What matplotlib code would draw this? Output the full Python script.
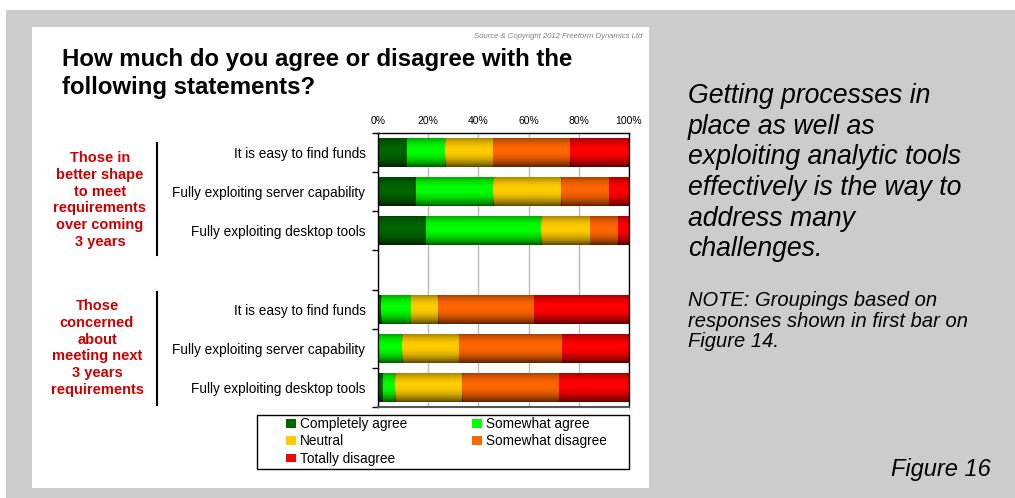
import numpy as np
import matplotlib.pyplot as plt
from matplotlib.patches import Rectangle, Patch
from matplotlib.lines import Line2D

plt.rcParams['font.family'] = ['Liberation Sans', 'DejaVu Sans']

W, H = 1015, 498

# data (percent of respondents)
statements = ['It is easy to find funds',
              'Fully exploiting server capability',
              'Fully exploiting desktop tools']
responses = ['Completely agree', 'Somewhat agree', 'Neutral',
             'Somewhat disagree', 'Totally disagree']
colors = ['#006600', '#00ff00', '#ffcc00', '#ff6600', '#ff0000']

# those in better shape to meet requirements
better_completely = [11.4, 15.0, 19.0]
better_somewhat = [15.3, 30.8, 46.0]
better_neutral = [19.1, 27.1, 19.5]
better_somewhat_dis = [30.7, 19.1, 11.2]
better_totally_dis = [23.5, 8.0, 4.3]

# those concerned about meeting requirements
concerned_completely = [1.2, 0.3, 1.9]
concerned_somewhat = [11.9, 9.3, 4.9]
concerned_neutral = [10.8, 22.7, 26.7]
concerned_somewhat_dis = [38.2, 41.0, 38.6]
concerned_totally_dis = [37.9, 26.7, 27.9]

tick_values = [0, 20, 40, 60, 80, 100]

better = [better_completely, better_somewhat, better_neutral,
          better_somewhat_dis, better_totally_dis]
concerned = [concerned_completely, concerned_somewhat, concerned_neutral,
             concerned_somewhat_dis, concerned_totally_dis]
series = [b + c for b, c in zip(better, concerned)]
rows = [0, 1, 2, 4, 5, 6]
row_labels = statements + statements


def fx(x):
    return x / W


def fy(y):
    return 1 - y / H


fig = plt.figure(figsize=(W / 100, H / 100), dpi=100, facecolor='#cccccc')

# page background pieces (behind the axes)
fig.patches.append(Rectangle((0, fy(10)), 1, 10 / H, transform=fig.transFigure,
                             facecolor='white', edgecolor='none', zorder=-10))
fig.patches.append(Rectangle((0, 0), fx(6), 1, transform=fig.transFigure,
                             facecolor='white', edgecolor='none', zorder=-10))
fig.patches.append(Rectangle((fx(32), fy(488)), fx(649 - 32), (488 - 27) / H,
                             transform=fig.transFigure, facecolor='white',
                             edgecolor='none', zorder=-10))

ax = fig.add_axes([fx(378), fy(407), fx(629 - 378), (407 - 133) / H])
ax.set_facecolor('white')

# gradient shading: dark at top and bottom of each bar
t = np.linspace(0, 1, 64)
alpha = 0.65 * ((t - 0.42) / 0.58) ** 2
shade = np.zeros((64, 1, 4))
shade[:, 0, 3] = alpha

bar_h = 0.74
left = np.zeros(len(rows))
for vals, col, name in zip(series, colors, responses):
    bars = ax.barh(rows, vals, left=left, height=bar_h, color=col,
                   edgecolor='none', label=name, zorder=2)
    for p in bars.patches:
        x0, y0 = p.get_x(), p.get_y()
        im = ax.imshow(shade, extent=(x0, x0 + p.get_width(), y0 + p.get_height(), y0),
                       aspect='auto', interpolation='bilinear', zorder=3)
        im.set_clip_path(p)
    left = left + np.array(vals)

ax.set_xlim(0, 100)
ax.set_ylim(6.5, -0.5)
ax.set_aspect('auto')

ax.xaxis.tick_top()
ax.set_xticks(tick_values)
ax.set_xticklabels([f'{v}%' for v in tick_values], fontsize=7.5)
ax.tick_params(axis='x', length=0, pad=5)
ax.xaxis.grid(True, color='#bbbbbb', lw=1)
ax.set_axisbelow(True)

ax.set_yticks(rows)
ax.set_yticklabels(row_labels, fontsize=9.8)
ax.set_yticks(np.arange(-0.5, 7, 1), minor=True)
ax.tick_params(axis='y', which='major', length=0, pad=9)
ax.tick_params(axis='y', which='minor', length=4, width=1, direction='out')

for s in ['top', 'left', 'right']:
    ax.spines[s].set_color('black')
    ax.spines[s].set_linewidth(1)
ax.spines['bottom'].set_color('#555555')
ax.spines['bottom'].set_linewidth(1.5)

# titles and notes
fig.text(fx(62), fy(66), 'How much do you agree or disagree with the',
         fontsize=17.3, fontweight='bold', va='baseline')
fig.text(fx(62), fy(94), 'following statements?',
         fontsize=17.3, fontweight='bold', va='baseline')
fig.text(fx(642), fy(38), 'Source & Copyright 2012 Freeform Dynamics Ltd',
         fontsize=5.6, style='italic', color='#808080', ha='right', va='baseline')

red = '#cc0000'
fig.text(fx(100), fy(200), 'Those in\nbetter shape\nto meet\nrequirements\nover coming\n3 years',
         fontsize=10.5, fontweight='bold', color=red, ha='center', va='center',
         linespacing=1.27)
fig.text(fx(97), fy(348), 'Those\nconcerned\nabout\nmeeting next\n3 years\nrequirements',
         fontsize=10.5, fontweight='bold', color=red, ha='center', va='center',
         linespacing=1.27)
fig.add_artist(Line2D([fx(157), fx(157)], [fy(143), fy(255)], color='black', lw=1.5))
fig.add_artist(Line2D([fx(157), fx(157)], [fy(292), fy(405)], color='black', lw=1.5))

side = ['Getting processes in', 'place as well as', 'exploiting analytic tools',
        'effectively is the way to', 'address many', 'challenges.']
for i, line in enumerate(side):
    fig.text(fx(688), fy(103 + 30.7 * i), line, fontsize=19.2, style='italic',
             va='baseline')
note = ['NOTE: Groupings based on', 'responses shown in first bar on', 'Figure 14.']
for i, line in enumerate(note):
    fig.text(fx(688), fy(306 + 20.5 * i), line, fontsize=14.5, style='italic',
             va='baseline')
fig.text(fx(991), fy(476), 'Figure 16', fontsize=17, style='italic',
         ha='right', va='baseline')

# legend
handles = [Patch(facecolor=c, edgecolor='none') for c in colors]
order = [0, 2, 4, 1, 3]
fig.legend([handles[i] for i in order], [responses[i] for i in order],
           loc='upper left', bbox_to_anchor=(fx(286), fy(417)), ncol=2,
           frameon=False, borderpad=0, fontsize=9.8, handlelength=0.7,
           handleheight=0.6, handletextpad=0.3, columnspacing=4.8,
           labelspacing=0.25, borderaxespad=0)
fig.patches.append(Rectangle((fx(257), fy(469)), fx(629 - 257), (469 - 415) / H,
                             transform=fig.transFigure, facecolor='none',
                             edgecolor='black', lw=1))

fig.savefig('out.png', dpi=100, facecolor=fig.get_facecolor())
